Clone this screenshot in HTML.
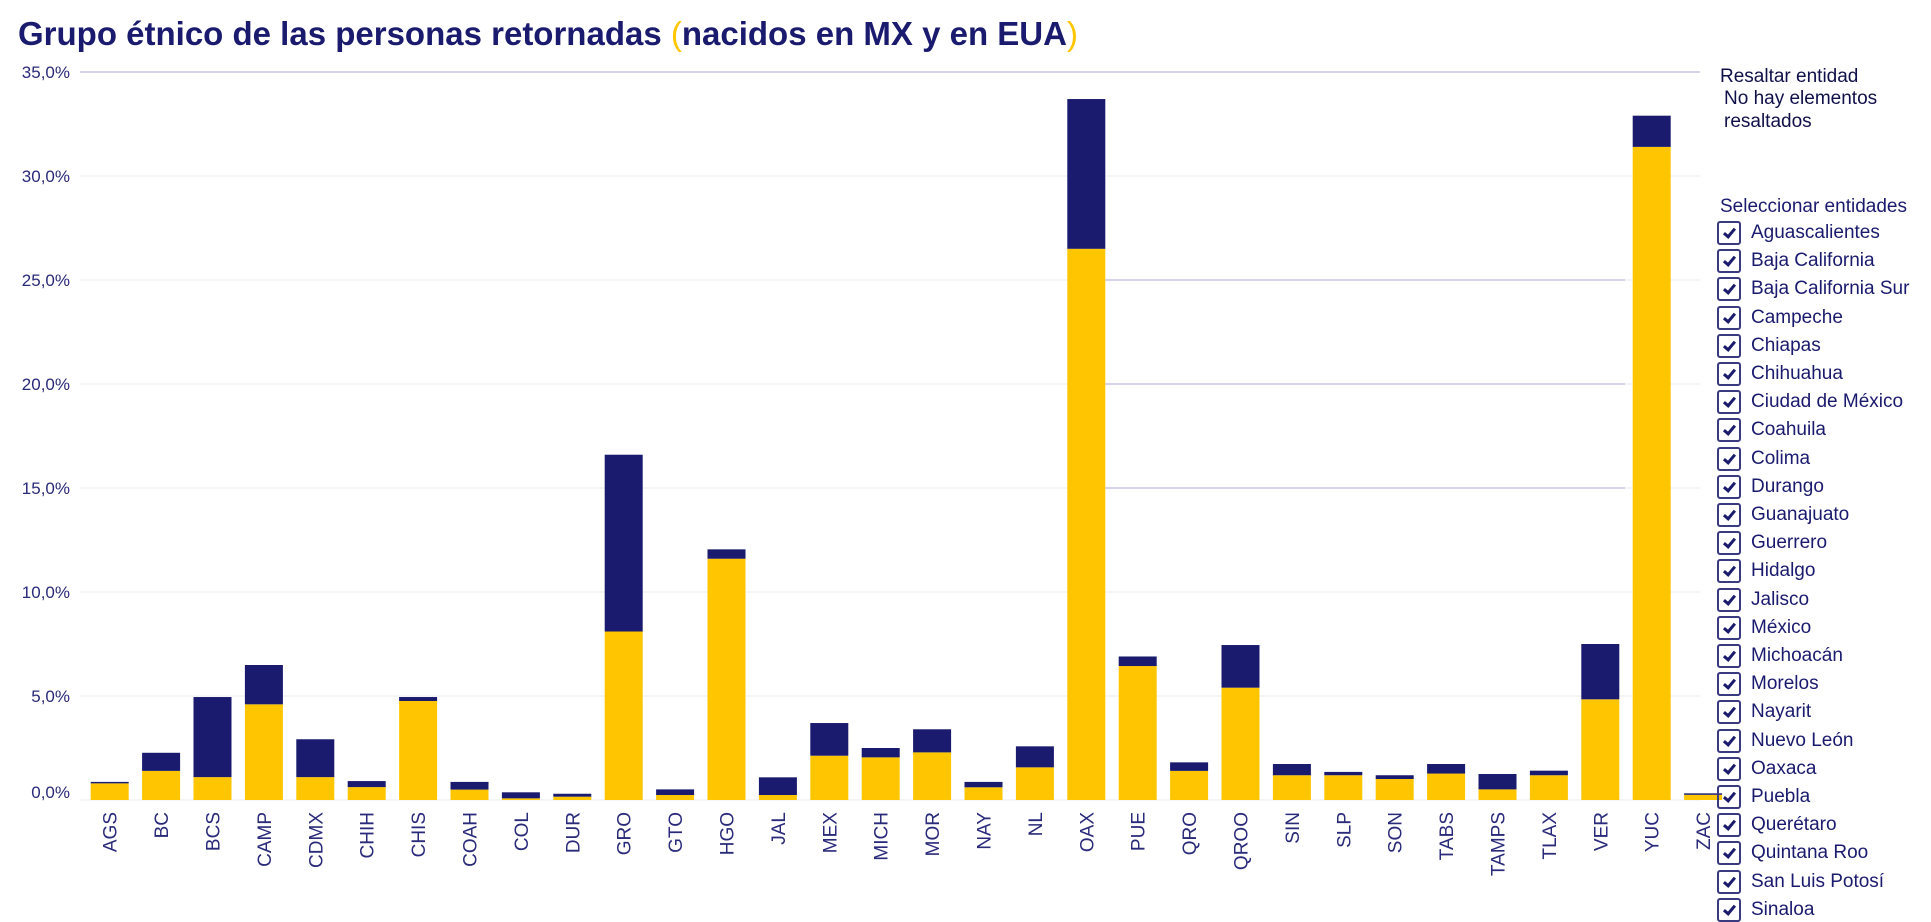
<!DOCTYPE html>
<html><head><meta charset="utf-8">
<style>
html,body{margin:0;padding:0;background:#fff;width:1931px;height:907px;overflow:hidden;font-family:"Liberation Sans",Arial,sans-serif;color:#1a1a6e}
#title{position:absolute;left:18px;top:15px;font-size:33px;font-weight:bold;color:#1a1a6e;white-space:nowrap;line-height:38px}
#title .y{color:#ffc600;font-weight:normal}
#legend{position:absolute;left:0;top:0;width:1931px;height:907px;font-size:19px;color:#1a1a6e}
.t{position:absolute;left:1720px;white-space:nowrap;line-height:22px;transform:translateY(-50%)}
.item{position:absolute;left:1717px;height:24px;display:flex;align-items:center;white-space:nowrap;transform:translateY(-50%)}
.cb{width:20px;height:20px;border:2px solid #3a3a80;border-radius:3px;margin-right:10px;position:relative;flex:none;box-sizing:content-box}
.cb:after{content:"";position:absolute;left:7px;top:3px;width:4px;height:9px;border:solid #1a1a6e;border-width:0 3px 3px 0;transform:rotate(40deg)}
svg{position:absolute;left:0;top:0}
</style></head><body>
<div id="title">Grupo étnico de las personas retornadas <span class="y">(</span>nacidos en MX y en EUA<span class="y">)</span></div>
<svg id="chart" width="1931" height="907"></svg>
<div id="legend">
  <div class="t" style="top:77px;color:#10104a">Resaltar entidad</div>
  <div class="t" style="top:99px;left:1724px;color:#10104a">No hay elementos</div>
  <div class="t" style="top:122px;left:1724px;color:#10104a">resaltados</div>
  <div class="t" style="top:207px">Seleccionar entidades</div>
  <div id="items"></div>
</div>
<script>
const categories=["AGS","BC","BCS","CAMP","CDMX","CHIH","CHIS","COAH","COL","DUR","GRO","GTO","HGO","JAL","MEX","MICH","MOR","NAY","NL","OAX","PUE","QRO","QROO","SIN","SLP","SON","TABS","TAMPS","TLAX","VER","YUC","ZAC"];
const mxValues=[0.8,1.4,1.1,4.6,1.1,0.62,4.76,0.5,0.08,0.16,8.1,0.24,11.6,0.24,2.13,2.05,2.29,0.61,1.57,26.5,6.44,1.4,5.4,1.19,1.19,1.01,1.27,0.51,1.19,4.84,31.4,0.25];
const euaValues=[0.07,0.87,3.85,1.89,1.82,0.29,0.19,0.37,0.29,0.14,8.5,0.27,0.45,0.85,1.57,0.45,1.11,0.26,1.01,7.2,0.46,0.41,2.05,0.54,0.16,0.18,0.46,0.74,0.22,2.66,1.5,0.07];
const tickValues=[0,5,10,15,20,25,30,35];
const tickLabels=["0,0%","5,0%","10,0%","15,0%","20,0%","25,0%","30,0%","35,0%"];
const entities=["Aguascalientes","Baja California","Baja California Sur","Campeche","Chiapas","Chihuahua","Ciudad de México","Coahuila","Colima","Durango","Guanajuato","Guerrero","Hidalgo","Jalisco","México","Michoacán","Morelos","Nayarit","Nuevo León","Oaxaca","Puebla","Querétaro","Quintana Roo","San Luis Potosí","Sinaloa"];

const NS="http://www.w3.org/2000/svg";
const svg=document.getElementById('chart');
const X0=84,BAND=51.4,BW=38,Y0=800,PX=20.8;
const y=v=>Y0-v*PX;
const xc=i=>X0+BAND*(i+0.5);
function mk(t,a){const e=document.createElementNS(NS,t);for(const k in a)e.setAttribute(k,a[k]);svg.appendChild(e);return e;}
tickValues.forEach((v,i)=>{
  const l=mk('line',{x1:80,x2:1700,y1:y(v),y2:y(v),stroke:v===35?'#d2d2ea':'#efeff3','stroke-width':v===35?2:1.2});
  
  
  const t=mk('text',{x:70,y:y(v)+6-(v===0?8:0),'text-anchor':'end','font-size':17,fill:'#2a2a7a','font-family':'Liberation Sans, sans-serif'});
  t.textContent=tickLabels[i];
  
  
});
[15,20,25].forEach(v=>{
  const l=mk('line',{x1:1104,x2:1625,y1:y(v),y2:y(v),stroke:'#c8c8e4','stroke-width':1.5});
  
  
});
categories.forEach((c,i)=>{
  const x=xc(i)-BW/2;
  const r1=mk('rect',{x:x,y:y(mxValues[i]),width:BW,height:mxValues[i]*PX,fill:'#ffc600'});
  
  
  const tot=mxValues[i]+euaValues[i];
  const r2=mk('rect',{x:x,y:y(tot),width:BW,height:euaValues[i]*PX,fill:'#1a1a6e'});
  
  
  const t=mk('text',{x:0,y:0,'text-anchor':'end','font-size':19,fill:'#2a2a7a','font-family':'Liberation Sans, sans-serif',transform:`translate(${xc(i)+7},812) rotate(-90)`});
  t.textContent=c;
  
  
});
const items=document.getElementById('items');
entities.forEach((n,i)=>{
  const d=document.createElement('div');d.className='item';
  d.style.top=(233+28.2*i)+'px';
  
  
  d.innerHTML='<span class="cb"></span><span>'+n+'</span>';
  items.appendChild(d);
});
</script>
</body></html>
